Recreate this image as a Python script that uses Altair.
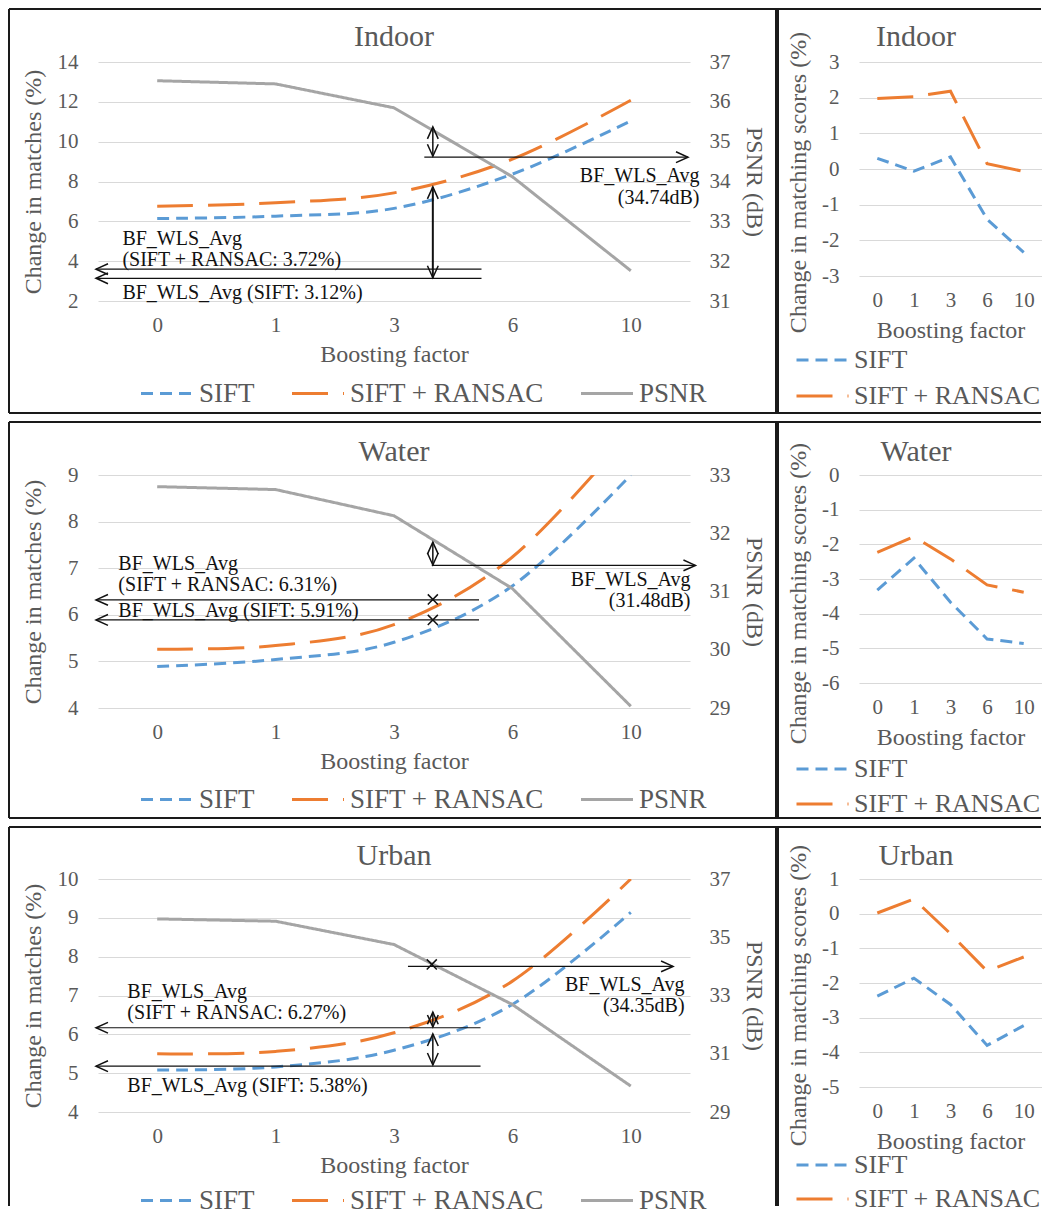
import json
import altair as alt
import pandas as pd

FONT = "Liberation Serif"
TXT = "#595959"
INK = "#111111"

FACTORS = ["0", "1", "3", "6", "10"]
POS = [0, 1, 2, 3, 4]
SERIES = ["SIFT", "SIFT + RANSAC", "PSNR"]
COLORS = ["#5B9BD5", "#ED7D31", "#A5A5A5"]
DASHES = [[12, 7], [36, 15], [1, 0]]
LEGEND_SYMBOL = "M-4.333,0L4.333,0"

HEAD_KINDS = ["r", "l", "u", "d", "x"]
HEAD_PATHS = [
    "M-1,-0.45L0,0L-1,0.45",
    "M1,-0.45L0,0L1,0.45",
    "M-0.45,1L0,0L0.45,1",
    "M-0.45,-1L0,0L0.45,-1",
    "M-0.42,-0.42L0.42,0.42M-0.42,0.42L0.42,-0.42",
]

# ---------------- data: change in matches (%) and PSNR (dB) ----------------
IN_SIFT = [6.14, 6.26, 6.65, 8.37, 11.04]
IN_RANSAC = [6.76, 6.93, 7.43, 9.12, 12.08]
IN_PSNR = [36.53, 36.45, 35.85, 34.12, 31.76]

WA_SIFT = [4.89, 5.04, 5.41, 6.62, 9.0]
WA_RANSAC = [5.26, 5.34, 5.79, 7.24, 9.93]
WA_PSNR = [32.80, 32.75, 32.30, 31.05, 29.03]

UR_SIFT = [5.08, 5.16, 5.59, 6.77, 9.14]
UR_RANSAC = [5.50, 5.56, 6.04, 7.37, 10.0]
UR_PSNR = [35.63, 35.55, 34.75, 32.69, 29.89]

# ---------------- data: change in matching scores (%) ----------------
IN_MS_SIFT = [0.30, -0.06, 0.34, -1.41, -2.34]
IN_MS_RANSAC = [1.98, 2.03, 2.18, 0.15, -0.07]
WA_MS_SIFT = [-3.32, -2.40, -3.67, -4.73, -4.86]
WA_MS_RANSAC = [-2.23, -1.78, -2.42, -3.17, -3.38]
UR_MS_SIFT = [-2.38, -1.86, -2.62, -3.80, -3.23]
UR_MS_RANSAC = [0.02, 0.42, -0.58, -1.66, -1.25]

# ---------------- annotations (x in category-index units, y in left-axis units) ----------------
IN_SEG = {"x": [2.256, 2.328, -0.517, -0.517, 2.328],
          "x2": [4.483, 2.328, 2.739, 2.739, 2.328],
          "y": [9.22, 10.74, 3.60, 3.14, 7.73],
          "y2": [9.22, 9.27, 3.60, 3.14, 3.17],
          "w": [1.2, 1.5, 1.2, 1.2, 2.0]}
IN_HEADS = {"x": [4.483, 2.328, 2.328, -0.517, -0.517, 2.328, 2.328],
            "y": [9.22, 10.74, 9.27, 3.60, 3.14, 7.73, 3.17],
            "k": ["r", "u", "d", "l", "l", "u", "d"]}
IN_TXT_L = {"x": [-0.294, -0.294, -0.294], "y": [5.11, 4.06, 2.38],
            "t": ["BF_WLS_Avg", "(SIFT + RANSAC:  3.72%)", "BF_WLS_Avg (SIFT: 3.12%)"]}
IN_TXT_R = {"x": [4.58, 4.58], "y": [8.28, 7.15], "t": ["BF_WLS_Avg", "(34.74dB)"]}

WA_SEG = {"x": [2.319, 2.328, -0.517, -0.517],
          "x2": [4.546, 2.328, 2.718, 2.718],
          "y": [7.06, 7.56, 6.32, 5.89],
          "y2": [7.06, 7.07, 6.32, 5.89],
          "w": [1.2, 1.5, 1.2, 1.2]}
WA_HEADS = {"x": [4.546, 2.328, 2.328, -0.517, -0.517, 2.328, 2.328],
            "y": [7.06, 7.56, 7.07, 6.32, 5.89, 6.33, 5.89],
            "k": ["r", "u", "d", "l", "l", "x", "x"]}
WA_TXT_L = {"x": [-0.328, -0.328, -0.328], "y": [7.08, 6.63, 6.08],
            "t": ["BF_WLS_Avg", "(SIFT + RANSAC:  6.31%)", "BF_WLS_Avg (SIFT: 5.91%)"]}
WA_TXT_R = {"x": [4.504, 4.504], "y": [6.74, 6.29], "t": ["BF_WLS_Avg", "(31.48dB)"]}

UR_SEG = {"x": [2.118, -0.517, -0.517, 2.328, 2.328],
          "x2": [4.357, 2.731, 2.731, 2.328, 2.328],
          "y": [7.75, 6.17, 5.18, 6.57, 6.01],
          "y2": [7.75, 6.17, 5.18, 6.19, 5.21],
          "w": [1.2, 1.2, 1.2, 1.5, 1.5]}
UR_HEADS = {"x": [4.357, 2.319, -0.517, -0.517, 2.328, 2.328, 2.328, 2.328],
            "y": [7.75, 7.80, 6.17, 5.18, 6.57, 6.19, 6.01, 5.21],
            "k": ["r", "x", "l", "l", "u", "d", "u", "d"]}
UR_TXT_L = {"x": [-0.252, -0.252, -0.252], "y": [7.09, 6.54, 4.67],
            "t": ["BF_WLS_Avg", "(SIFT + RANSAC:  6.27%)", "BF_WLS_Avg (SIFT: 5.38%)"]}
UR_TXT_R = {"x": [4.454, 4.454], "y": [7.28, 6.74], "t": ["BF_WLS_Avg", "(34.35dB)"]}

LABEL_EXPR = json.dumps(FACTORS) + "[datum.value]"


def xscale():
    return alt.Scale(domain=[-0.5, 4.5], nice=False, zero=False)


def x_axis(label_pad, extent):
    return alt.Axis(orient="bottom", values=POS, labelExpr=LABEL_EXPR, title="Boosting factor", grid=False,
                    labelPadding=label_pad, minExtent=extent, maxExtent=extent, titlePadding=8,
                    labelFlush=False, labelOverlap=False)


def frame(left, right, top, bottom, with_right=True, with_bottom=True):
    """Panel border drawn as separate pixel rules (decoration only)."""
    rows = [(left, right, top, top), (left, left, top, bottom)]
    if with_right:
        rows.append((right, right, top, bottom))
    if with_bottom:
        rows.append((left, right, bottom, bottom))
    df = pd.DataFrame(rows, columns=["a", "a2", "b", "b2"])
    return alt.Chart(df).mark_rule(color="#1a1a1a", strokeWidth=2).encode(
        x=alt.X("a:Q", scale=None, axis=None), x2="a2:Q",
        y=alt.Y("b:Q", scale=None, axis=None), y2="b2:Q")


def heading(name, cx, cy):
    return alt.Chart(pd.DataFrame({"t": [name]})).mark_text(
        font=FONT, fontSize=30, color=TXT, align="center", baseline="middle"
    ).encode(x=alt.value(cx), y=alt.value(cy), text="t:N")


def make_legend(lx, ly, direction, font_size, row_pad=2, col_pad=30):
    return alt.Legend(orient="none", legendX=lx, legendY=ly, direction=direction, title=None,
                      symbolType=LEGEND_SYMBOL, symbolSize=144, symbolStrokeWidth=3,
                      labelFontSize=font_size, labelOffset=18.5, columnPadding=col_pad, rowPadding=row_pad,
                      padding=0, labelLimit=400)


def left_panel(name, sift, ransac, psnr, ydom, yticks, pdom, pticks, h, top, bottom, has_bottom,
               title_y, leg_y, seg, heads, tl, tr):
    def xs():
        return xscale()

    def ys():
        return alt.Scale(domain=ydom, nice=False, zero=False)

    ps = alt.Scale(domain=pdom, nice=False, zero=False)
    leg = make_legend(55.5, leg_y, "horizontal", 27)
    color = alt.Color("s:N", scale=alt.Scale(domain=SERIES, range=COLORS), legend=leg)
    dash = alt.StrokeDash("s:N", scale=alt.Scale(domain=SERIES, range=DASHES), legend=leg)

    df = pd.DataFrame({"i": POS + POS, "s": [SERIES[0]] * 5 + [SERIES[1]] * 5,
                       "v": list(sift) + list(ransac)})
    lines = alt.Chart(df).mark_line(interpolate="cardinal", strokeWidth=3, clip=True).encode(
        x=alt.X("i:Q", scale=xs(), axis=x_axis(13, 33)),
        y=alt.Y("v:Q", scale=ys(), axis=alt.Axis(values=yticks, title="Change in matches (%)", grid=True,
                                                 labelPadding=20, minExtent=45, maxExtent=45,
                                                 titlePadding=8, labelExpr="toString(datum.value)")),
        color=color, strokeDash=dash)

    pdf = pd.DataFrame({"i": POS, "s": ["PSNR"] * 5, "p": psnr})
    pline = alt.Chart(pdf).mark_line(strokeWidth=3).encode(
        x=alt.X("i:Q", scale=xs(), axis=None),
        y=alt.Y("p:Q", scale=ps, axis=alt.Axis(orient="right", values=pticks, title="PSNR (dB)", grid=False,
                                               labelPadding=19, minExtent=43, maxExtent=43,
                                               titlePadding=8, labelExpr="toString(datum.value)")),
        color=color, strokeDash=dash)

    rules = alt.Chart(pd.DataFrame(seg)).mark_rule(color=INK).encode(
        x=alt.X("x:Q", scale=xs(), axis=None), x2="x2:Q",
        y=alt.Y("y:Q", scale=ys(), axis=None), y2="y2:Q",
        strokeWidth=alt.StrokeWidth("w:Q", scale=None, legend=None))
    hp = alt.Chart(pd.DataFrame(heads)).mark_point(filled=False, size=576, strokeWidth=1.5,
                                                   color=INK, opacity=1).encode(
        x=alt.X("x:Q", scale=xs(), axis=None),
        y=alt.Y("y:Q", scale=ys(), axis=None),
        shape=alt.Shape("k:N", scale=alt.Scale(domain=HEAD_KINDS, range=HEAD_PATHS), legend=None))
    txt_l = alt.Chart(pd.DataFrame(tl)).mark_text(align="left", baseline="middle", font=FONT,
                                                  fontSize=20, color=INK).encode(
        x=alt.X("x:Q", scale=xs(), axis=None), y=alt.Y("y:Q", scale=ys(), axis=None), text="t:N")
    txt_r = alt.Chart(pd.DataFrame(tr)).mark_text(align="right", baseline="middle", font=FONT,
                                                  fontSize=20, color=INK).encode(
        x=alt.X("x:Q", scale=xs(), axis=None), y=alt.Y("y:Q", scale=ys(), axis=None), text="t:N")

    border = frame(-89, 680, top, bottom, True, has_bottom)
    return alt.layer(border, heading(name, 296, title_y), lines, pline, rules, hp, txt_l, txt_r
                     ).resolve_scale(x="independent", y="independent").properties(width=592, height=h)


def right_panel(name, sift, ransac, ydom, yticks, h, top, bottom, has_bottom, title_y, leg_y, row_pad,
                axis_title_y):
    xs = xscale()
    ys = alt.Scale(domain=ydom, nice=False, zero=False)
    leg = make_legend(-49.5, leg_y, "vertical", 26, row_pad=row_pad)
    color = alt.Color("s:N", scale=alt.Scale(domain=SERIES[:2], range=COLORS[:2]), legend=leg)
    dash = alt.StrokeDash("s:N", scale=alt.Scale(domain=SERIES[:2], range=DASHES[:2]), legend=leg)
    df = pd.DataFrame({"i": POS + POS, "s": [SERIES[0]] * 5 + [SERIES[1]] * 5,
                       "v": list(sift) + list(ransac)})
    lines = alt.Chart(df).mark_line(strokeWidth=3).encode(
        x=alt.X("i:Q", scale=xs, axis=x_axis(13, 34)),
        y=alt.Y("v:Q", scale=ys, axis=alt.Axis(values=yticks, title="Change in matching scores (%)",
                                               titleY=axis_title_y, grid=True, labelPadding=20,
                                               minExtent=41, maxExtent=41, titlePadding=8,
                                               labelExpr="toString(datum.value)")),
        color=color, strokeDash=dash)
    border = frame(-83, 182, top, bottom, False, has_bottom)
    return alt.layer(border, heading(name, 57, title_y), lines).properties(width=183, height=h)


L1 = left_panel("Indoor", IN_SIFT, IN_RANSAC, IN_PSNR, [2, 14], [2, 4, 6, 8, 10, 12, 14],
                [31, 37], [31, 32, 33, 34, 35, 36, 37], 239, -53, 351, True, -25, 317.8,
                IN_SEG, IN_HEADS, IN_TXT_L, IN_TXT_R)
R1 = right_panel("Indoor", IN_MS_SIFT, IN_MS_RANSAC, [-3, 3], [-3, -2, -1, 0, 1, 2, 3], 214,
                 -53, 351, True, -25, 285, 10, 120)

L2 = left_panel("Water", WA_SIFT, WA_RANSAC, WA_PSNR, [4, 9], [4, 5, 6, 7, 8, 9],
                [29, 33], [29, 30, 31, 32, 33], 233, -53, 343, True, -23, 310.8,
                WA_SEG, WA_HEADS, WA_TXT_L, WA_TXT_R)
R2 = right_panel("Water", WA_MS_SIFT, WA_MS_RANSAC, [-6, 0], [-6, -5, -4, -3, -2, -1, 0], 208,
                 -53, 343, True, -23, 281, 9, 118)

L3 = left_panel("Urban", UR_SIFT, UR_RANSAC, UR_PSNR, [4, 10], [4, 5, 6, 7, 8, 9, 10],
                [29, 37], [29, 31, 33, 35, 37], 233, -52, 327, False, -23, 307.8,
                UR_SEG, UR_HEADS, UR_TXT_L, UR_TXT_R)
R3 = right_panel("Urban", UR_MS_SIFT, UR_MS_RANSAC, [-5, 1], [-5, -4, -3, -2, -1, 0, 1], 208,
                 -52, 327, False, -23, 273, 8, 116)


def row(a, b):
    return alt.hconcat(a, b, spacing=-4).resolve_scale(color="independent", strokeDash="independent")


chart = alt.vconcat(row(L1, R1), row(L2, R2), row(L3, R3), spacing=7).resolve_scale(
    color="independent", strokeDash="independent"
).properties(padding=0, background="white").configure_view(stroke=None).configure_axis(
    labelFont=FONT, titleFont=FONT, labelFontSize=21, titleFontSize=24, labelColor=TXT,
    titleColor=TXT, titleFontWeight="normal", domain=False, ticks=False, tickSize=0,
    gridColor="#D9D9D9", gridWidth=1
).configure_legend(labelFont=FONT, labelColor=TXT)

chart.save("out.html", embed_options={"renderer": "svg", "actions": False})
